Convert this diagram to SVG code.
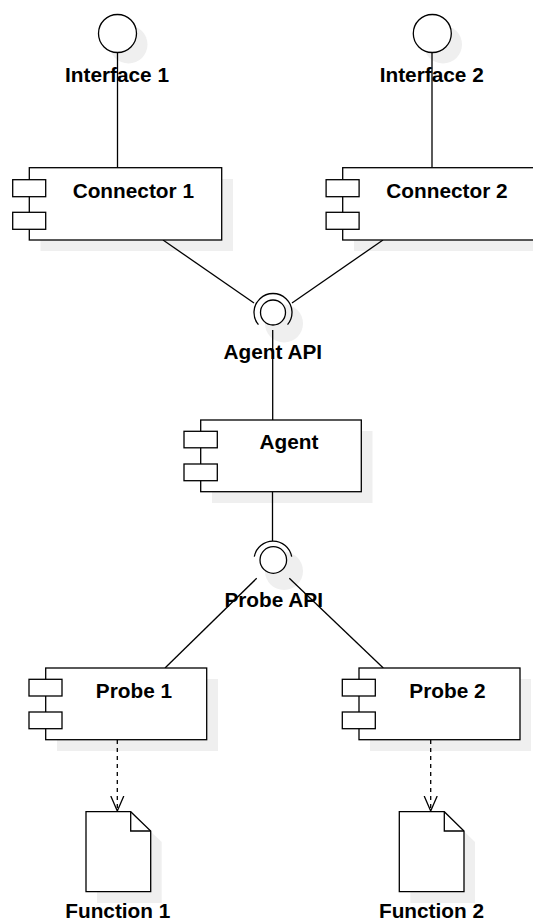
<svg xmlns="http://www.w3.org/2000/svg" width="533" height="922" viewBox="0 0 533 922">
  <defs>
    <style>
      .shape { fill: #ffffff; stroke: #000000; stroke-width: 1.3; }
      .shadow { fill: #efefef; stroke: none; }
      .edge { fill: none; stroke: #000000; stroke-width: 1.3; }
      .dash { stroke-dasharray: 4 4; }
      .label { font-family: "Liberation Sans", Arial, sans-serif; font-weight: bold; font-size: 20.8px; text-anchor: middle; fill: #000000; }
    </style>
    <marker id="openArrow" markerUnits="userSpaceOnUse" markerWidth="16" markerHeight="18" refX="15" refY="7" orient="auto" viewBox="0 0 16 14">
      <path d="M0,0.5 L15,7 L0,13.5" fill="none" stroke="#000000" stroke-width="1.3"/>
    </marker>
  </defs>

  <!-- drop shadows -->
  <g id="shadows">
    <circle class="shadow" cx="128.5" cy="44.5" r="19"/>
    <circle class="shadow" cx="443" cy="44.5" r="19"/>
    <rect class="shadow" x="40.5" y="179" width="192.5" height="72"/>
    <rect class="shadow" x="354" y="179" width="192.5" height="72"/>
    <circle class="shadow" cx="284" cy="323.5" r="19"/>
    <rect class="shadow" x="212" y="431" width="160.5" height="72"/>
    <circle class="shadow" cx="284" cy="571" r="19"/>
    <rect class="shadow" x="57" y="679" width="161" height="72"/>
    <rect class="shadow" x="370" y="679" width="161" height="72"/>
    <path class="shadow" d="M97,823 H141.7 L161.7,842 V903 H97 Z"/>
    <path class="shadow" d="M410.3,823 H455.3 L475,842 V903 H410.3 Z"/>
  </g>

  <!-- connectors -->
  <g id="connectors">
    <line class="edge" x1="117.5" y1="52.5" x2="117.5" y2="167.7"/>
    <line class="edge" x1="432" y1="52.5" x2="432" y2="167.7"/>
    <line class="edge" x1="163" y1="240" x2="254" y2="303"/>
    <line class="edge" x1="383" y1="240" x2="292" y2="303"/>
    <line class="edge" x1="272.7" y1="330" x2="272.7" y2="420"/>
    <line class="edge" x1="272.5" y1="491.7" x2="272.5" y2="541"/>
    <line class="edge" x1="256.7" y1="578.3" x2="165" y2="668"/>
    <line class="edge" x1="289.3" y1="578.3" x2="383.3" y2="668"/>
    <line class="edge dash" x1="117.3" y1="740" x2="117.3" y2="811" marker-end="url(#openArrow)"/>
    <line class="edge dash" x1="430.7" y1="740" x2="430.7" y2="811" marker-end="url(#openArrow)"/>
  </g>

  <!-- provided interfaces -->
  <g id="interface1">
    <circle class="shape" cx="117.5" cy="33.5" r="19"/>
    <text class="label" x="117" y="81.7">Interface 1</text>
  </g>
  <g id="interface2">
    <circle class="shape" cx="432.3" cy="33.5" r="19"/>
    <text class="label" x="431.7" y="81.7">Interface 2</text>
  </g>

  <!-- components -->
  <g id="connector1">
    <rect class="shape" x="29.3" y="167.7" width="192.4" height="72.3"/>
    <rect class="shape" x="12.7" y="179.7" width="33" height="17"/>
    <rect class="shape" x="12.7" y="212.3" width="33" height="17"/>
    <text class="label" x="133.3" y="197.7">Connector 1</text>
  </g>
  <g id="connector2">
    <rect class="shape" x="342.7" y="167.7" width="192.4" height="72.3"/>
    <rect class="shape" x="326.1" y="179.7" width="33" height="17"/>
    <rect class="shape" x="326.1" y="212.3" width="33" height="17"/>
    <text class="label" x="447" y="197.7">Connector 2</text>
  </g>

  <!-- Agent API: lollipop with socket -->
  <g id="agentApi">
    <circle class="shape" cx="273" cy="312.5" r="12.5"/>
    <path class="edge" d="M258.45,324.7 A19,19 0 1 1 287.55,324.7"/>
    <text class="label" x="272.8" y="359">Agent API</text>
  </g>

  <g id="agent">
    <rect class="shape" x="200.7" y="420" width="160.6" height="71.7"/>
    <rect class="shape" x="184" y="431.3" width="33.3" height="16.5"/>
    <rect class="shape" x="184" y="464" width="33.3" height="16.7"/>
    <text class="label" x="289" y="449">Agent</text>
  </g>

  <!-- Probe API: lollipop with socket -->
  <g id="probeApi">
    <circle class="shape" cx="273.3" cy="560" r="13.3"/>
    <path class="edge" d="M254.3,556.7 A19,19 0 0 1 291.7,556.7"/>
    <text class="label" x="273.7" y="607.3">Probe API</text>
  </g>

  <g id="probe1">
    <rect class="shape" x="45.7" y="668" width="161" height="71.7"/>
    <rect class="shape" x="29" y="679.3" width="33" height="16.7"/>
    <rect class="shape" x="29" y="712" width="33" height="16.7"/>
    <text class="label" x="134" y="698.3">Probe 1</text>
  </g>
  <g id="probe2">
    <rect class="shape" x="359" y="668" width="161" height="71.7"/>
    <rect class="shape" x="342.3" y="679.3" width="33" height="16.7"/>
    <rect class="shape" x="342.3" y="712" width="33" height="16.7"/>
    <text class="label" x="447.5" y="698.3">Probe 2</text>
  </g>

  <!-- artifacts -->
  <g id="function1">
    <path class="shape" d="M86,811.7 H130.7 L150.7,831 V891.7 H86 Z"/>
    <path class="edge" d="M130.7,811.7 V831 H150.7"/>
    <text class="label" x="117.8" y="917.5">Function 1</text>
  </g>
  <g id="function2">
    <path class="shape" d="M399.3,811.7 H444.3 L464,831 V891.7 H399.3 Z"/>
    <path class="edge" d="M444.3,811.7 V831 H464"/>
    <text class="label" x="431.5" y="917.5">Function 2</text>
  </g>
</svg>
